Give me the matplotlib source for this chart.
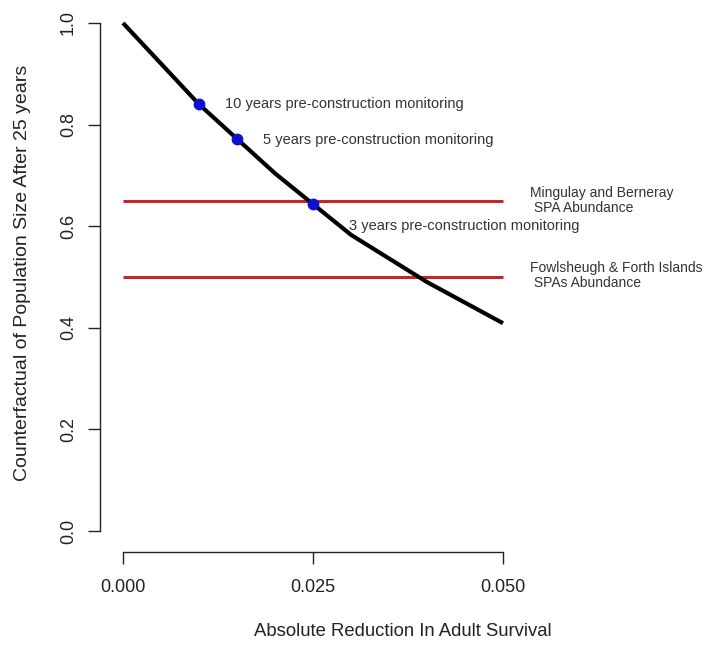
import matplotlib
matplotlib.use("Agg")
import matplotlib.pyplot as plt

# Data
reduction = [0.0, 0.01, 0.02, 0.03, 0.04, 0.05]
counterfactual = [1.0, 0.84, 0.704, 0.583, 0.49, 0.409]

monitor_x = [0.01, 0.015, 0.025]
monitor_y = [0.84, 0.772, 0.644]
monitor_labels = ["10 years pre-construction monitoring",
                  "5 years pre-construction monitoring",
                  "3 years pre-construction monitoring"]

spa_levels = [0.65, 0.50]
spa_labels = ["Mingulay and Berneray\n SPA Abundance",
              "Fowlsheugh & Forth Islands\n SPAs Abundance"]

x_ticks = [0.0, 0.025, 0.05]
x_ticklabels = ["0.000", "0.025", "0.050"]
y_ticks = [0.0, 0.2, 0.4, 0.6, 0.8, 1.0]
y_ticklabels = ["0.0", "0.2", "0.4", "0.6", "0.8", "1.0"]

plt.rcParams['font.family'] = ['Liberation Sans', 'DejaVu Sans']
W, H = 715, 646
fig = plt.figure(figsize=(W / 100, H / 100), dpi=100)

# axes box in pixels: left 100, right 518, top 3, bottom 552
ax = fig.add_axes([100 / W, (H - 552) / H, (518 - 100) / W, (552 - 3) / H])
ax.set_xlim(-23 / 7600, 0.05 + 15 / 7600)
ax.set_ylim(-21 / 508, 1 + 20 / 508)

txtc = "#333333"

# red SPA lines
spa_text_y = [0.65, 0.503]
for lvl, ty, lab in zip(spa_levels, spa_text_y, spa_labels):
    ax.plot([0.0, 0.05], [lvl, lvl], color="#c0282d", lw=2.2, solid_capstyle="butt", zorder=2)
    ax.text(0.0535, ty, lab, fontsize=10.0, color=txtc, ha="left", va="center",
            linespacing=1.1, clip_on=False)

# curve
ax.plot(reduction, counterfactual, color="black", lw=3, zorder=3, solid_capstyle="butt")

# monitoring points
ax.plot(monitor_x, monitor_y, "o", color="#1010d0", ms=7.5, zorder=4)
label_pos = [(0.0134, 0.84), (0.0184, 0.77), (0.0297, 0.60)]
for (tx, ty), lab in zip(label_pos, monitor_labels):
    ax.text(tx, ty, lab, fontsize=10.5, color=txtc, ha="left", va="center", clip_on=False)

# axes styling (R-like)
for s in ["top", "right"]:
    ax.spines[s].set_visible(False)
ax.spines["left"].set_bounds(0, 1)
ax.spines["bottom"].set_bounds(0, 0.05)
for s in ["left", "bottom"]:
    ax.spines[s].set_linewidth(1.0)
    ax.spines[s].set_color("#222222")

ax.set_xticks(x_ticks)
ax.set_xticklabels(x_ticklabels)
ax.set_yticks(y_ticks)
ax.set_yticklabels(y_ticklabels, rotation=90, va="center")
ax.tick_params(axis="both", length=8.5, width=1.0, color="#222222", labelsize=13,
               labelcolor="#222222")
ax.tick_params(axis="x", pad=11)
ax.tick_params(axis="y", pad=8)

fig.text(403 / W, 1 - 632 / H, "Absolute Reduction In Adult Survival", fontsize=13.3,
         color="#222222", ha="center", va="center")
fig.text(23 / W, 1 - 273 / H, "Counterfactual of Population Size After 25 years",
         fontsize=14, color="#222222", ha="center", va="center", rotation=90)

fig.savefig("out.png", dpi=100, facecolor="white")
